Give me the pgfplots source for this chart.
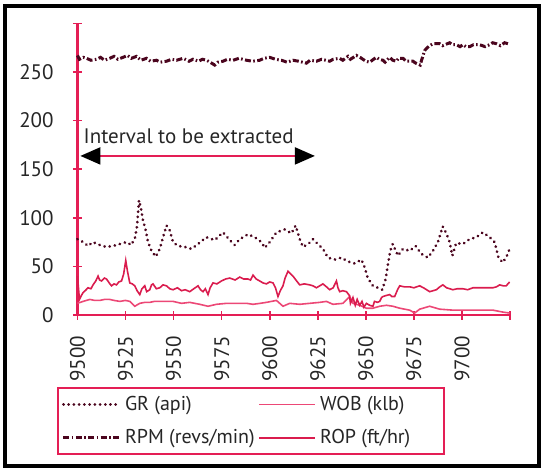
\documentclass[border=0pt]{standalone}
\usepackage{fontspec}
\setmainfont{PT Sans}
\usepackage{pgfplots}
\pgfplotsset{compat=1.18}
\usetikzlibrary{arrows.meta}
\definecolor{crim}{RGB}{228,30,85}
\definecolor{ropc}{RGB}{218,28,78}
\definecolor{wobc}{RGB}{236,72,118}
\definecolor{dk}{RGB}{75,5,30}
\begin{document}
\begin{tikzpicture}
\useasboundingbox (-38.75pt,-78.5pt) rectangle (233.75pt,157.5pt);
\begin{axis}[
  at={(0,0)}, anchor=south west,
  width=216.25pt, height=145.85pt, scale only axis,
  xmin=9500, xmax=9725, ymin=0, ymax=300,
  axis lines*=left,
  axis line style={crim, line width=1.2pt},
  xtick={9500,9525,9550,9575,9600,9625,9650,9675,9700,9725},
  xticklabels={9500,9525,9550,9575,9600,9625,9650,9675,9700,{}},
  ytick={0,50,100,150,200,250,300},
  yticklabels={0,50,100,150,200,250,{}},
  tick align=center, major tick length=4.5pt,
  tick style={crim, line width=0.8pt},
  /pgf/number format/assume math mode=true,
  every tick label/.append style={font=\fontsize{10.5}{12}\selectfont, text=black!85},
  xticklabel style={rotate=90, anchor=east, inner xsep=8pt},
  yticklabel style={inner xsep=9.5pt},
  clip=false,
  legend columns=2,
  legend cell align=left,
  legend image code/.code={\draw[#1] (0pt,0pt) -- (28pt,0pt);},
  legend style={at={(-0.0474,-0.2468)}, anchor=north west,
    draw=crim, line width=1pt, inner xsep=2pt, inner ysep=3pt,
    font=\fontsize{10}{12}\selectfont, row sep=6pt,
    nodes={inner xsep=2pt, inner ysep=1pt, text=black!85}},
]
% GR
\addplot[dk, line width=1.5pt, line cap=round, dash pattern=on 0.01pt off 2.6pt] coordinates {
(9500,78)(9503,75)(9505.5,71)(9508,75)(9511.6,72)(9515,70)(9518.5,71)(9522,73)(9525.5,75)(9528,72)
(9530,80)(9531,92)(9532,118)(9533,110)(9534,98)(9535.5,87)(9536.7,75)(9538.5,66)(9540.7,60)(9542.8,68)
(9544.5,80)(9546.3,92)(9548,87)(9549.7,75)(9552.3,71)(9555.8,70)(9559.3,68)(9562.7,73)(9567,80)(9571.4,77)
(9575.7,85)(9579.2,77)(9581.8,72)(9584.4,78)(9588.7,83)(9592.2,80)(9595.7,75)(9597.4,69)(9600,75)(9603.5,85)
(9607.8,88)(9611.3,84)(9613.5,92)(9615.6,78)(9617.3,70)(9620,73)(9622.5,78)(9625,73)(9627.7,68)(9630.3,59)
(9633.8,57)(9637.3,59)(9640.7,55)(9644.2,53)(9647.7,57)(9649.4,49)(9651,38)(9653.7,30)(9656.3,28)(9658.6,26)
(9660.3,37)(9661.5,52)(9662.7,66)(9664,73)(9666.7,61)(9669.3,68)(9672.8,66)(9675.9,71)(9678.8,63)(9682.3,59)
(9684.9,66)(9687.5,75)(9690,91)(9691.9,84)(9693.6,75)(9695,61)(9697,74)(9700.5,73)(9704,78)(9707.5,80)
(9710.9,85)(9714.4,80)(9717,75)(9719,59)(9721.3,54)(9723.4,61)(9724.8,68)
};
\addlegendentry{GR (api)}
% WOB
\addplot[wobc, line width=0.8pt] coordinates {
(9500,12)(9502.9,14)(9506.4,16)(9509,15)(9511.6,15)(9514,16)(9516.8,16)(9519,15)(9522,14)(9525,15)(9527.2,14)
(9529.8,9)(9532.4,12)(9535,13)(9537.6,13)(9540,14)(9542.8,14)(9546,14)(9549.7,14)(9554.1,12)(9558.4,13)
(9563.6,11)(9567.9,9)(9572.3,11)(9577.5,12)(9584.4,12)(9588,12)(9591.3,11)(9595,12)(9598.3,13)(9603.5,15)
(9606.9,9)(9610.4,12)(9615.6,11)(9620.8,12)(9626,13)(9629.5,14)(9632.9,11)(9638.1,12)(9641.6,19)(9643.3,12)
(9646.8,10)(9650.3,7)(9653.7,7)(9657.2,9)(9660.7,10)(9664.1,9)(9667.6,7)(9672.8,5)(9675.4,2)(9678,6)
(9683.2,9)(9688.4,6)(9695.3,5)(9702.3,5)(9709.2,5)(9716.1,5)(9721.3,3)(9724.8,2)
};
\addlegendentry{\makebox[58pt][l]{WOB (klb)}}
% RPM
\addplot[dk, line width=1.5pt, dash pattern=on 3pt off 1.2pt on 0.8pt off 1.2pt] coordinates {
(9500,267)(9501,263)(9503,265)(9504.7,264)(9507,262)(9509.9,263)(9512,265)(9514,262)(9516.8,264)(9519,266)
(9521,263)(9523.7,265)(9526,267)(9528,264)(9530.7,266)(9533,262)(9535.9,264)(9538,261)(9541.1,262)(9543,260)
(9546.3,261)(9549,263)(9551.5,262)(9555,264)(9558,261)(9560.1,263)(9563,261)(9565,263)(9567.1,262)(9569,260)
(9571.4,257)(9573,260)(9575.7,261)(9578,263)(9580.9,262)(9584,264)(9587.9,262)(9591,261)(9594.8,262)(9597,264)
(9600,265)(9603,263)(9606.1,262)(9609,260)(9612.1,262)(9615,261)(9619.1,259)(9621,262)(9624.3,261)(9627,263)
(9631.2,261)(9633,263)(9636.4,264)(9638,262)(9640.7,266)(9642,263)(9645.1,267)(9647,265)(9648.5,263)(9650,261)
(9652,260)(9654,263)(9655.5,265)(9657,263)(9658.9,262)(9660,260)(9662.4,265)(9664,262)(9665.9,261)(9667,264)
(9669.3,264)(9671,261)(9674.5,261)(9676,259)(9678.3,257)(9679,262)(9680.6,272)(9682,275)(9683.2,277)(9685,279)
(9688.4,279)(9690,277)(9693.6,280)(9695,278)(9697.1,278)(9699,276)(9700.5,278)(9702,276)(9704,276)(9706,278)
(9709.2,278)(9712,276)(9714.4,278)(9716,280)(9717.9,279)(9720,277)(9722.2,280)(9724,279)
};
\addlegendentry{RPM (revs/min)}
% ROP
\addplot[ropc, line width=0.8pt] coordinates {
(9500,40)(9500.5,28)(9501,16)(9502,20)(9502.9,23)(9504,25)(9505.5,28)(9507,27)(9508.1,31)(9509.5,35)
(9510.7,40)(9511.5,36)(9512.5,35)(9514,38)(9515.1,37)(9516.5,33)(9517.7,30)(9519,32)(9520.3,31)(9521.5,34)
(9522.9,35)(9524,42)(9525.1,56)(9526,45)(9527.2,33)(9528.5,32)(9529.8,30)(9531,25)(9532.4,21)(9533.5,27)
(9535,30)(9536,24)(9537.6,26)(9538.5,31)(9539.3,32)(9541,27)(9542.8,28)(9544.5,31)(9546.3,30)(9548,27)
(9549.7,26)(9552,28)(9554.1,25)(9556,26)(9558.4,24)(9560.5,27)(9562.7,30)(9564,26)(9565.3,24)(9566.5,27)
(9567.9,21)(9569,28)(9570.5,33)(9572.5,32)(9574.9,35)(9577,37)(9579.2,38)(9582,36)(9584.4,39)(9586.5,37)
(9588.7,37)(9590,36)(9591.3,41)(9593,37)(9594.8,35)(9596.5,33)(9598.3,32)(9600,34)(9601.7,33)(9603,28)
(9604.3,19)(9605.5,25)(9606.9,30)(9608,38)(9609.5,45)(9611,42)(9612.1,40)(9614,35)(9615.6,31)(9618,32)
(9620.8,31)(9622.5,30)(9624.3,28)(9626,30)(9627.7,32)(9629.5,29)(9631.2,26)(9633,28)(9634.7,35)(9635.5,28)
(9636.4,24)(9638,25)(9639.9,24)(9641.5,20)(9642,12)(9643.3,18)(9644.5,10)(9645.5,16)(9646.8,10)(9648,14)
(9649,8)(9650.3,12)(9652,10)(9653.7,9)(9654.5,14)(9656,13)(9657.2,14)(9658.2,18)(9658.9,19)(9660.5,20)
(9662.4,21)(9663.5,19)(9665,19)(9666.5,26)(9667.6,30)(9670,29)(9672.8,29)(9675,28)(9678,30)(9680,28)
(9683.2,24)(9685,25)(9686.7,26)(9688.5,29)(9690.1,31)(9692,28)(9695.3,26)(9697.5,27)(9700.5,27)(9703,26)
(9705.7,28)(9708,28)(9710.9,28)(9713.5,28)(9716.1,28)(9718,29)(9719.6,31)(9721.5,30)(9723,30)(9724.8,34)
};
\addlegendentry{\makebox[58pt][l]{ROP (ft/hr)}}
\draw[crim, line width=1pt, {Triangle[length=10pt, width=8.5pt, color=black]}-{Triangle[length=10pt, width=8.5pt, color=black]}]
  (axis cs:9501.5,163.6) -- (axis cs:9623.5,163.6);
\node[anchor=base west, inner sep=0pt, font=\fontsize{10.5}{12}\selectfont, text=black!85]
  at (axis cs:9503,176) {Interval to be extracted};
\end{axis}
\draw[black, line width=2pt] (-36.25pt,-75.5pt) rectangle (230.75pt,154.5pt);
\end{tikzpicture}
\end{document}
